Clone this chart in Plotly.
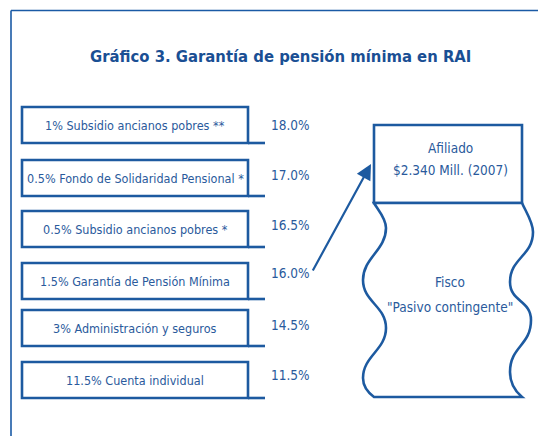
import plotly.graph_objects as go

# ---- data ----
components = ["1% Subsidio ancianos pobres **",
              "0.5% Fondo de Solidaridad Pensional *",
              "0.5% Subsidio ancianos pobres *",
              "1.5% Garantía de Pensión Mínima",
              "3% Administración y seguros",
              "11.5% Cuenta individual"]
cumulative = [18.0, 17.0, 16.5, 16.0, 14.5, 11.5]
afiliado_lines = ["Afiliado", "$2.340 Mill. (2007)"]
fisco_lines = ["Fisco", "\"Pasivo contingente\""]
title = "Gráfico 3. Garantía de pensión mínima en RAI"

# ---- layout geometry ----
W, H = 538, 436
LINE = "#1d5aa0"
TXT = "#2a5a9c"
FONT = "DejaVu Sans Condensed, Liberation Sans Narrow, sans-serif"

box_tops = [107, 160, 211, 263, 310, 362]
label_ys = [125, 175, 224.5, 273, 325, 375]
box_h = 36
box_x0, box_x1, ext_x = 22, 248, 265

fig = go.Figure()
shapes = []
annotations = []

# outer frame (top and left)
shapes.append(dict(type="line", x0=11, y0=10.5, x1=W, y1=10.5, line=dict(color="#1a5aa5", width=1.6)))
shapes.append(dict(type="line", x0=11, y0=10.5, x1=11, y1=H, line=dict(color="#1a5aa5", width=1.6)))

for lab, val, top, ly in zip(components, cumulative, box_tops, label_ys):
    bot = top + box_h
    shapes.append(dict(type="rect", x0=box_x0, y0=top, x1=box_x1, y1=bot,
                       line=dict(color=LINE, width=2.6), fillcolor="white"))
    shapes.append(dict(type="line", x0=box_x1, y0=bot, x1=ext_x, y1=bot,
                       line=dict(color=LINE, width=2.6)))
    annotations.append(dict(x=(box_x0 + box_x1) / 2, y=(top + bot) / 2, text=lab,
                            showarrow=False, xanchor="center", yanchor="middle",
                            font=dict(family=FONT, size=12.5, color=TXT)))
    annotations.append(dict(x=269, y=ly, text=f"{val:.1f}%",
                            showarrow=False, xanchor="left", yanchor="middle",
                            font=dict(family=FONT, size=13.5, color=TXT)))

# Afiliado box
shapes.append(dict(type="rect", x0=374, y0=125, x1=522, y1=203,
                   line=dict(color=LINE, width=2.6), fillcolor="white"))
for txt, yy in zip(afiliado_lines, [148, 170]):
    annotations.append(dict(x=450, y=yy, text=txt, showarrow=False,
                            xanchor="center", yanchor="middle",
                            font=dict(family=FONT, size=13.5, color=TXT)))

# Fisco wavy shape
path = ("M374,203 C378,210 386,218 386,228 "
        "C386,250 363,258 363,280 "
        "C363,302 386,306 386,328 "
        "C386,350 363,356 363,378 "
        "C363,388 370,394 374,397 "
        "L522,397 "
        "C516,392 510,384 510,372 "
        "C510,346 531,346 531,320 "
        "C531,300 510,302 510,282 "
        "C510,258 533,256 533,232 "
        "C533,222 526,212 522,203 Z")
shapes.append(dict(type="path", path=path, line=dict(color=LINE, width=2.6), fillcolor="white"))
for txt, yy in zip(fisco_lines, [282, 307]):
    annotations.append(dict(x=450, y=yy, text=txt, showarrow=False,
                            xanchor="center", yanchor="middle",
                            font=dict(family=FONT, size=13.5, color=TXT)))

# arrow from 16.0% to Afiliado
annotations.append(dict(x=371, y=164, ax=312, ay=272, axref="x", ayref="y",
                        xref="x", yref="y", text="", showarrow=True,
                        arrowhead=2, arrowsize=1.4, arrowwidth=2.2, arrowcolor=LINE))

# title
annotations.append(dict(x=280, y=56, text="<b>" + title + "</b>", showarrow=False,
                        xanchor="center", yanchor="middle",
                        font=dict(family=FONT, size=16.5, color="#1a4f94")))

fig.update_layout(
    width=W, height=H, margin=dict(l=0, r=0, t=0, b=0),
    paper_bgcolor="white", plot_bgcolor="white",
    xaxis=dict(range=[0, W], visible=False, fixedrange=True),
    yaxis=dict(range=[H, 0], visible=False, fixedrange=True),
    shapes=shapes, annotations=annotations, showlegend=False,
)
fig.write_html("out.html", config={"displayModeBar": False},
               post_script="document.body.style.margin='0px';")
